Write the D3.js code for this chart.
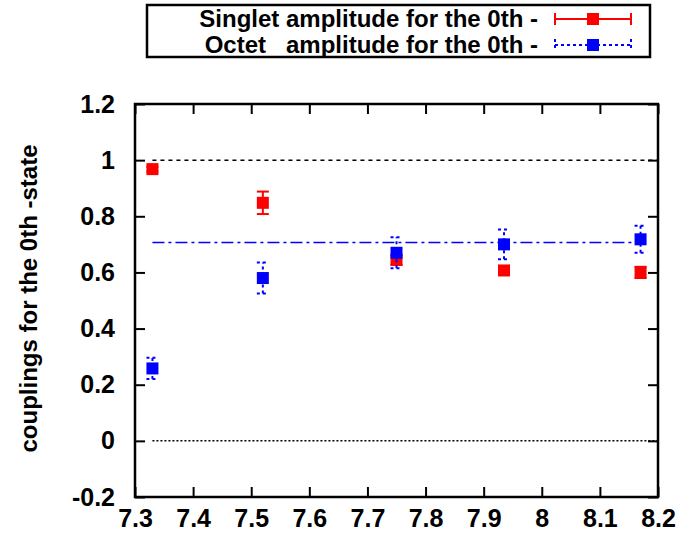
<!DOCTYPE html>
<html>
<head>
<meta charset="utf-8">
<script src="https://cdn.jsdelivr.net/npm/d3@7"></script>
<style>
body { margin: 0; background: #fff; }
text { font-family: "Liberation Sans", Arial, sans-serif; }
</style>
</head>
<body>
<div id="chart"></div>
<script>
// data
var xs = [7.33, 7.52, 7.75, 7.935, 8.17];
var singletVals = [0.968, 0.848, 0.645, 0.607, 0.600];
var singletErrs = [0.008, 0.040, 0.018, 0.015, 0.020];
var octetVals = [0.258, 0.580, 0.670, 0.700, 0.718];
var octetErrs = [0.038, 0.055, 0.055, 0.053, 0.048];
var xTicks = [7.3, 7.4, 7.5, 7.6, 7.7, 7.8, 7.9, 8, 8.1, 8.2];
var yTicks = [-0.2, 0, 0.2, 0.4, 0.6, 0.8, 1, 1.2];
var refLines = [
    {y: 1, x0: 7.33, x1: 8.2, color: "black", dash: "4,4"},
    {y: 0, x0: 7.33, x1: 8.2, color: "black", dash: "2,2"},
    {y: 0.707, x0: 7.33, x1: 8.17, color: "blue", dash: "12,4,3,4"}
];

var width = 682, height = 541;
var margin = {left: 135, right: 24, top: 104, bottom: 44};

var svg = d3.select("#chart").append("svg")
    .attr("width", width)
    .attr("height", height);

var x = d3.scaleLinear().domain([7.3, 8.2]).range([margin.left, width - margin.right]);
var y = d3.scaleLinear().domain([-0.2, 1.2]).range([height - margin.bottom, margin.top]);

// axes with inward ticks on all four sides
var fmt = function (d) { return String(+d.toFixed(1)); };
svg.append("g")
    .attr("transform", "translate(0," + y(-0.2) + ")")
    .call(d3.axisBottom(x).tickValues(xTicks).tickSizeInner(-10).tickSizeOuter(0).tickPadding(12).tickFormat(fmt))
    .call(function (g) { g.select(".domain").remove(); });
svg.append("g")
    .attr("transform", "translate(" + x(7.3) + ",0)")
    .call(d3.axisLeft(y).tickValues(yTicks).tickSizeInner(-10).tickSizeOuter(0).tickPadding(20).tickFormat(fmt))
    .call(function (g) { g.select(".domain").remove(); });
svg.append("g")
    .attr("transform", "translate(0," + y(1.2) + ")")
    .call(d3.axisTop(x).tickValues(xTicks).tickSizeInner(-10).tickSizeOuter(0).tickFormat(""))
    .call(function (g) { g.select(".domain").remove(); });
svg.append("g")
    .attr("transform", "translate(" + x(8.2) + ",0)")
    .call(d3.axisRight(y).tickValues(yTicks).tickSizeInner(-10).tickSizeOuter(0).tickFormat(""))
    .call(function (g) { g.select(".domain").remove(); });

svg.selectAll(".tick line").attr("stroke", "black").attr("stroke-width", 2);
svg.selectAll(".tick text")
    .attr("fill", "black")
    .style("font-size", "25px")
    .style("font-weight", "bold");

svg.append("rect")
    .attr("x", x(7.3)).attr("y", y(1.2))
    .attr("width", x(8.2) - x(7.3)).attr("height", y(-0.2) - y(1.2))
    .attr("fill", "none").attr("stroke", "black").attr("stroke-width", 2.5);

// y label
svg.append("text")
    .attr("transform", "translate(37," + (y(0.5) - 2) + ") rotate(-90)")
    .attr("text-anchor", "middle")
    .style("font-size", "24px")
    .style("font-weight", "bold")
    .text("couplings for the 0th -state");

// reference lines
svg.selectAll(".ref").data(refLines).enter().append("line")
    .attr("x1", function (d) { return x(d.x0); })
    .attr("x2", function (d) { return x(d.x1); })
    .attr("y1", function (d) { return y(d.y); })
    .attr("y2", function (d) { return y(d.y); })
    .attr("stroke", function (d) { return d.color; })
    .attr("stroke-width", 1.5)
    .attr("stroke-dasharray", function (d) { return d.dash; });

function drawSeries(vals, errs, color, dash) {
    var g = svg.append("g");
    var pts = xs.map(function (d, i) { return {x: d, v: vals[i], e: errs[i]}; });
    var cap = 6;
    var eb = g.selectAll(".eb").data(pts).enter().append("g")
        .attr("stroke", color).attr("stroke-width", 2)
        .attr("stroke-dasharray", dash);
    eb.append("line")
        .attr("x1", function (d) { return x(d.x); }).attr("x2", function (d) { return x(d.x); })
        .attr("y1", function (d) { return y(d.v - d.e); }).attr("y2", function (d) { return y(d.v + d.e); });
    eb.append("line")
        .attr("x1", function (d) { return x(d.x) - cap; }).attr("x2", function (d) { return x(d.x) + cap; })
        .attr("y1", function (d) { return y(d.v + d.e); }).attr("y2", function (d) { return y(d.v + d.e); });
    eb.append("line")
        .attr("x1", function (d) { return x(d.x) - cap; }).attr("x2", function (d) { return x(d.x) + cap; })
        .attr("y1", function (d) { return y(d.v - d.e); }).attr("y2", function (d) { return y(d.v - d.e); });
    g.selectAll(".pt").data(pts).enter().append("rect")
        .attr("x", function (d) { return x(d.x) - 6; })
        .attr("y", function (d) { return y(d.v) - 6; })
        .attr("width", 12).attr("height", 12)
        .attr("fill", color);
}
drawSeries(singletVals, singletErrs, "red", null);
drawSeries(octetVals, octetErrs, "blue", "3,3");

// legend
var legend = svg.append("g");
legend.append("rect")
    .attr("x", 147).attr("y", 5).attr("width", 503).attr("height", 52)
    .attr("fill", "white").attr("stroke", "black").attr("stroke-width", 2.5);
var legendItems = [
    {label: "Singlet amplitude for the 0th -", color: "red", dash: null, ly: 19},
    {label: "Octet   amplitude for the 0th -", color: "blue", dash: "3,3", ly: 45}
];
legendItems.forEach(function (d) {
    legend.append("text")
        .attr("x", 538).attr("y", d.ly + 8)
        .attr("text-anchor", "end")
        .attr("xml:space", "preserve")
        .style("white-space", "pre")
        .style("font-size", "24px")
        .style("font-weight", "bold")
        .text(d.label);
    var s = legend.append("g").attr("stroke", d.color).attr("stroke-width", 2).attr("stroke-dasharray", d.dash);
    s.append("line").attr("x1", 555).attr("x2", 631).attr("y1", d.ly).attr("y2", d.ly);
    s.append("line").attr("x1", 555).attr("x2", 555).attr("y1", d.ly - 6).attr("y2", d.ly + 6);
    s.append("line").attr("x1", 631).attr("x2", 631).attr("y1", d.ly - 6).attr("y2", d.ly + 6);
    legend.append("rect").attr("x", 587).attr("y", d.ly - 6).attr("width", 12).attr("height", 12).attr("fill", d.color);
});
</script>
</body>
</html>
